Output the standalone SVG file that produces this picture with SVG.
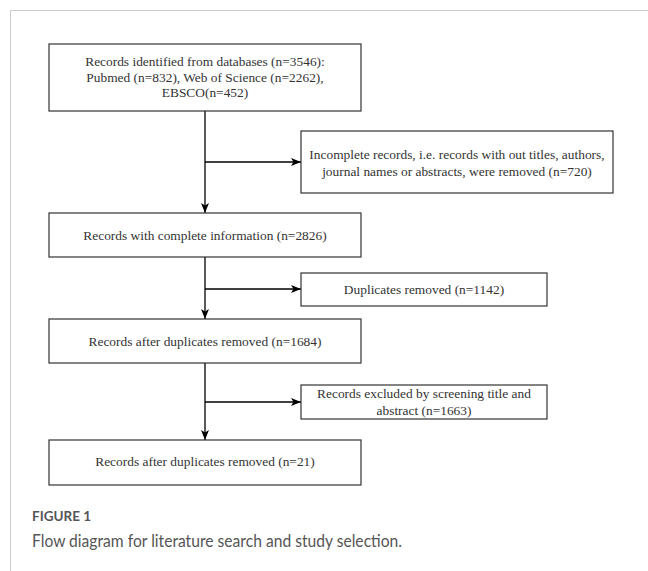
<svg xmlns="http://www.w3.org/2000/svg" width="648" height="571" viewBox="0 0 648 571">
<defs>
<style>
.box{fill:#fff;stroke:#333;stroke-width:1.2}
.t{font-family:"Liberation Serif","Times New Roman",serif;font-size:13.4px;fill:#333;text-anchor:middle}
.c{fill:none;stroke:#000;stroke-width:1.3}
.frame{fill:none;stroke:#ccc;stroke-width:1}
.cap1{font-family:Lato,"Open Sans",sans-serif;font-size:13.5px;font-weight:700;fill:#555}
.cap2{font-family:Lato,"Open Sans",sans-serif;font-size:17px;fill:#555}
</style>
<marker id="ah" viewBox="0 0 10 10" refX="10" refY="5" markerWidth="10" markerHeight="10" markerUnits="userSpaceOnUse" orient="auto">
<path d="M0,1 L10,5 L0,9 L2.5,5 Z" fill="#000"/>
</marker>
</defs>
<path class="frame" d="M10.5,571 V10.5 H648"/>
<g id="connectors">
<line class="c" x1="205" y1="111" x2="205" y2="213" marker-end="url(#ah)"/>
<line class="c" x1="205" y1="162" x2="301" y2="162" marker-end="url(#ah)"/>
<line class="c" x1="205" y1="257" x2="205" y2="319" marker-end="url(#ah)"/>
<line class="c" x1="205" y1="289" x2="301" y2="289" marker-end="url(#ah)"/>
<line class="c" x1="205" y1="363" x2="205" y2="440" marker-end="url(#ah)"/>
<line class="c" x1="205" y1="402" x2="301" y2="402" marker-end="url(#ah)"/>
</g>
<g id="n1">
<rect class="box" x="49" y="44" width="312" height="67"/>
<text class="t" x="205" y="66">Records identified from databases (n=3546):</text>
<text class="t" x="205" y="82">Pubmed (n=832), Web of Science (n=2262),</text>
<text class="t" x="205" y="97">EBSCO(n=452)</text>
</g>
<g id="n2">
<rect class="box" x="301" y="131" width="312" height="62"/>
<text class="t" x="457" y="159">Incomplete records, i.e. records with out titles, authors,</text>
<text class="t" x="457" y="176">journal names or abstracts, were removed (n=720)</text>
</g>
<g id="n3">
<rect class="box" x="49" y="213" width="312" height="44"/>
<text class="t" x="205" y="240">Records with complete information (n=2826)</text>
</g>
<g id="n4">
<rect class="box" x="301" y="273" width="246" height="33"/>
<text class="t" x="424" y="294">Duplicates removed (n=1142)</text>
</g>
<g id="n5">
<rect class="box" x="49" y="319" width="312" height="44"/>
<text class="t" x="205" y="346">Records after duplicates removed (n=1684)</text>
</g>
<g id="n6">
<rect class="box" x="301" y="385" width="246" height="34"/>
<text class="t" x="424" y="398">Records excluded by screening title and</text>
<text class="t" x="424" y="415">abstract (n=1663)</text>
</g>
<g id="n7">
<rect class="box" x="49" y="440" width="312" height="45"/>
<text class="t" x="205" y="466">Records after duplicates removed (n=21)</text>
</g>
<text class="cap1" x="32" y="521">FIGURE 1</text>
<text class="cap2" x="32" y="547" textLength="370" lengthAdjust="spacingAndGlyphs">Flow diagram for literature search and study selection.</text>
</svg>
